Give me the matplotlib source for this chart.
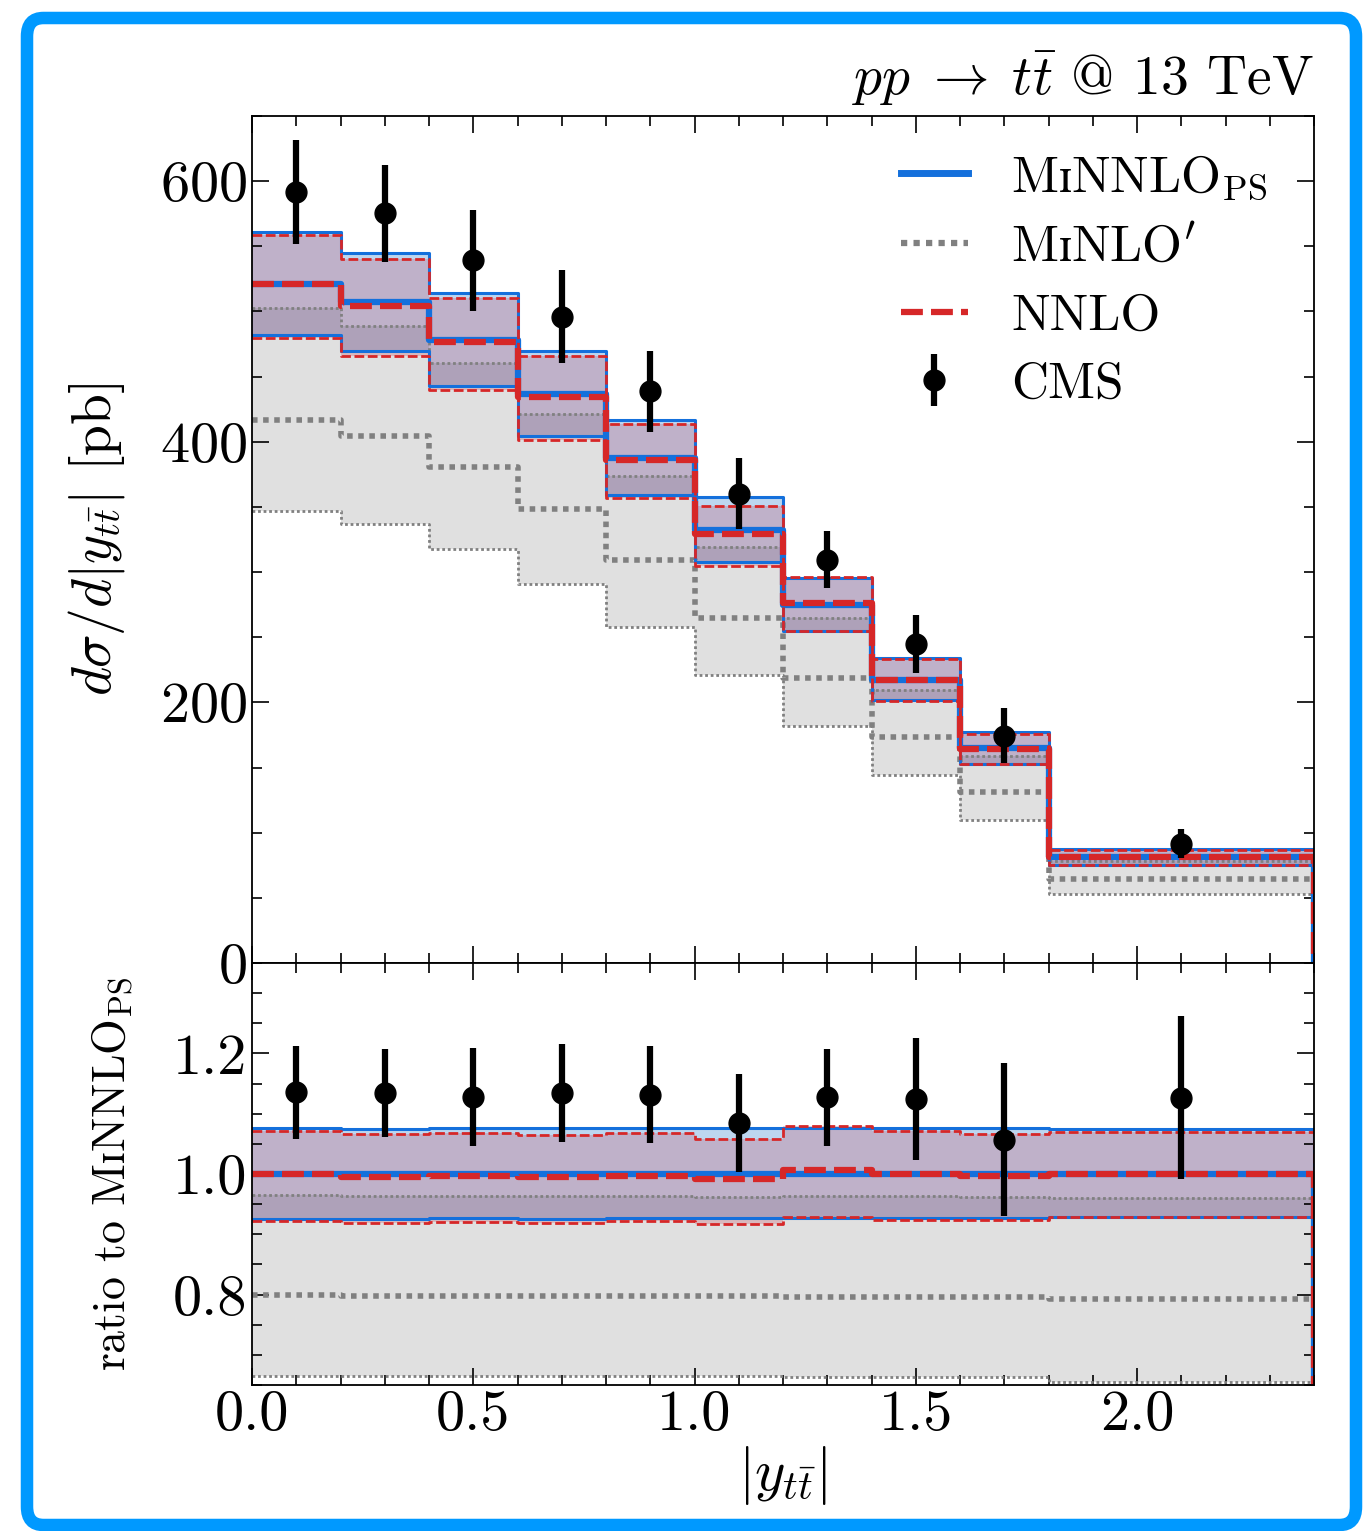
import numpy as np
import matplotlib
matplotlib.use('Agg')
import matplotlib.pyplot as plt
from matplotlib.patches import FancyBboxPatch
from matplotlib.lines import Line2D

# bins in |y_ttbar|
edges = [0.0, 0.2, 0.4, 0.6, 0.8, 1.0, 1.2, 1.4, 1.6, 1.8, 2.4]
centers = [0.1, 0.3, 0.5, 0.7, 0.9, 1.1, 1.3, 1.5, 1.7, 2.1]

# MiNNLO_PS
minnlo = [521, 507, 478, 437, 387.5, 332, 274.5, 217.5, 165, 81.3]
minnlo_hi = [561, 545, 514.5, 470, 417, 357.5, 295.5, 234, 177.5, 87.4]
minnlo_lo = [482, 469.5, 443, 404.5, 359, 307.5, 254.5, 201.5, 153, 75.5]
# NNLO
nnlo = [521, 504.5, 476.5, 434.5, 386, 329, 276.3, 217.5, 164.5, 81.3]
nnlo_hi = [558.5, 540.5, 510.5, 465.5, 414, 351, 296.5, 233, 176, 87]
nnlo_lo = [480, 466, 440, 401.5, 357, 304.5, 255, 201, 152.5, 75.5]
# MiNLO'
minlo = [416.5, 404.5, 381, 348.5, 309, 265, 218.4, 173.2, 131.2, 64.5]
minlo_hi = [502.5, 488.5, 460.5, 421, 373.5, 319.5, 264.5, 209.5, 158.6, 78]
minlo_lo = [346.5, 337, 318, 290.5, 257.5, 221, 182.2, 144.4, 109.4, 53.2]
# CMS data
cms = [591.6, 575.2, 539.2, 496, 438.6, 360.3, 309.4, 244.7, 174.4, 91.6]
cms_err = [40, 37, 39, 35.5, 31, 27, 22, 22, 21, 11]

plt.rcParams['font.family'] = 'serif'
plt.rcParams['font.serif'] = ['cmr10']
plt.rcParams['mathtext.fontset'] = 'cm'
plt.rcParams['axes.formatter.use_mathtext'] = True
plt.rcParams['axes.unicode_minus'] = False

BLUE = '#1470dc'
RED = '#d62728'
GREY = '#808080'
DOT = (0, (1, 1))
DASH = (0, (3.5, 1.3))

fig = plt.figure(figsize=(13.7, 15.31), dpi=100)
L, R = 252 / 1370, 1314 / 1370
ax = fig.add_axes([L, 1 - 963 / 1531, R - L, (963 - 116) / 1531])
axr = fig.add_axes([L, 1 - 1385 / 1531, R - L, (1385 - 963) / 1531], sharex=ax)

ref = np.array(minnlo)


def line(a, v, s, **kw):
    # histogram outline, dropping to zero after the last bin
    y = np.append(np.array(v) / s, 0)
    a.step(edges, y, where='post', **kw)


def draw(a, s):
    # bands
    a.stairs(np.array(minlo_hi) / s, edges, baseline=np.array(minlo_lo) / s,
             fill=True, color='#e0e0e0', lw=0)
    a.stairs(np.array(minnlo_hi) / s, edges, baseline=np.array(minnlo_lo) / s,
             fill=True, color='#267acd', alpha=0.3, lw=0)
    a.stairs(np.array(nnlo_hi) / s, edges, baseline=np.array(nnlo_lo) / s,
             fill=True, color='#c64358', alpha=0.25, lw=0)
    for v, lw in [(minlo_hi, 2.0), (minlo_lo, 2.0), (minlo, 4.0)]:
        line(a, v, s, color=GREY, lw=lw, ls=DOT)
    for v, lw in [(minnlo_hi, 2.2), (minnlo_lo, 2.2), (minnlo, 4.5)]:
        line(a, v, s, color=BLUE, lw=lw)
    for v, lw in [(nnlo_hi, 2.0), (nnlo_lo, 2.0), (nnlo, 4.5)]:
        line(a, v, s, color=RED, lw=lw, ls=DASH)
    a.errorbar(centers, np.array(cms) / s, yerr=np.array(cms_err) / s,
               fmt='o', color='black', ms=15, elinewidth=4.5, capsize=0,
               zorder=10)


draw(ax, np.ones(len(minnlo)))
draw(axr, ref)

h1 = Line2D([], [], color=BLUE, lw=5)
h2 = Line2D([], [], color=GREY, lw=4.5, ls=DOT)
h3 = Line2D([], [], color=RED, lw=4.5, ls=DASH)
h4 = ax.errorbar([], [], yerr=[], fmt='o', color='black', ms=15, elinewidth=4.5)
ax.legend([h1, h2, h3, h4],
          [r'$\mathrm{M\text{ɪ}NNLO_{PS}}$', r'$\mathrm{M\text{ɪ}NLO}^{\prime}$',
           'NNLO', 'CMS'],
          loc='upper right', bbox_to_anchor=(1.0, 1.01), frameon=False,
          fontsize=37, handlelength=1.3, handletextpad=0.85, labelspacing=0.44)

ax.set_xlim(0, 2.4)
ax.set_ylim(0, 650)
axr.set_ylim(0.65, 1.35)
ax.set_yticks([0, 200, 400, 600])
ax.yaxis.set_minor_locator(plt.MultipleLocator(50))
ax.xaxis.set_major_locator(plt.MultipleLocator(0.5))
ax.xaxis.set_minor_locator(plt.MultipleLocator(0.1))
axr.set_yticks([0.8, 1.0, 1.2])
axr.yaxis.set_minor_locator(plt.MultipleLocator(0.05))
axr.yaxis.set_major_formatter(plt.FormatStrFormatter('%.1f'))
axr.xaxis.set_major_formatter(plt.FormatStrFormatter('%.1f'))

for a in (ax, axr):
    a.tick_params(which='both', direction='in', top=True, right=True,
                  labelsize=42, width=1.2)
    a.tick_params(which='major', length=12)
    a.tick_params(which='minor', length=7)
    for sp in a.spines.values():
        sp.set_linewidth(1.3)
        sp.set_zorder(20)
ax.tick_params(labelbottom=False)

ax.set_ylabel(r'$d\sigma/d|y_{t\bar{t}}|$ [pb]', fontsize=40)
ax.yaxis.set_label_coords(-0.118, 0.5)
axr.set_ylabel(r'ratio to $\mathrm{M\text{ɪ}NNLO_{PS}}$', fontsize=33)
axr.yaxis.set_label_coords(-0.11, 0.5)
axr.set_xlabel(r'$|y_{t\bar{t}}|$', fontsize=42, labelpad=2)
ax.text(1.0, 1.01, r'$pp\;\to\;t\bar{t}$ @ 13 TeV', transform=ax.transAxes,
        ha='right', va='bottom', fontsize=40)

border = FancyBboxPatch((27 / 1370, 6 / 1531), (1356 - 27) / 1370, (1513 - 6) / 1531,
                        boxstyle='round,pad=0,rounding_size=0.012',
                        transform=fig.transFigure, fill=False,
                        ec='#0099ff', lw=9)
fig.patches.append(border)

fig.savefig('out.png', dpi=100)
